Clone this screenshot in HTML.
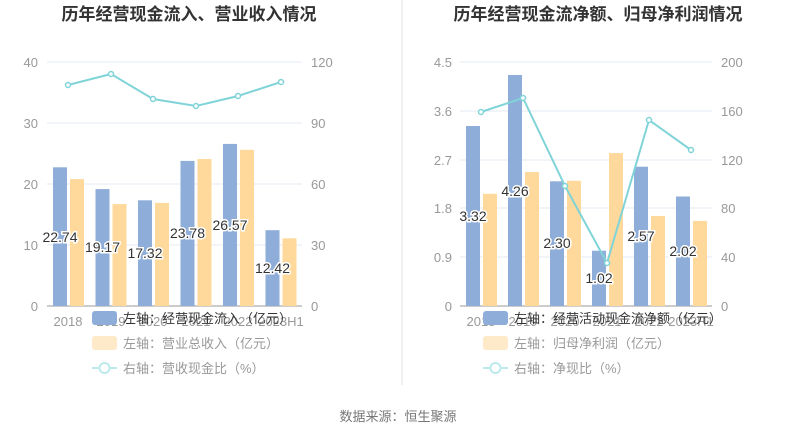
<!DOCTYPE html>
<html><head><meta charset="utf-8"><style>
html,body{margin:0;padding:0;background:#fff;}
svg{display:block;font-family:"Liberation Sans","Noto Sans CJK SC",sans-serif;}
</style></head><body>
<svg width="795" height="439" viewBox="0 0 795 439" xmlns="http://www.w3.org/2000/svg">
<rect width="795" height="439" fill="#fff"/>
<line x1="402" y1="0" x2="402" y2="385" stroke="#f0f0f0" stroke-width="2"/>
<text x="189" y="20" font-size="17" font-weight="bold" fill="#333" text-anchor="middle">历年经营现金流入、营业收入情况</text>
<text x="598" y="20" font-size="17" font-weight="bold" fill="#333" text-anchor="middle">历年经营现金流净额、归母净利润情况</text>

<!-- LEFT -->
<g stroke="#e3e8f3" stroke-width="1">
<line x1="47" y1="62" x2="302" y2="62"/><line x1="47" y1="123" x2="302" y2="123"/>
<line x1="47" y1="184" x2="302" y2="184"/><line x1="47" y1="245" x2="302" y2="245"/>
</g>
<line x1="47" y1="306" x2="302" y2="306" stroke="#999" stroke-width="1"/>
<g font-size="13" fill="#999" text-anchor="end">
<text x="38" y="67">40</text><text x="38" y="128">30</text><text x="38" y="189">20</text><text x="38" y="250">10</text><text x="38" y="311">0</text>
</g>
<g font-size="13" fill="#999" text-anchor="start">
<text x="311" y="67">120</text><text x="311" y="128">90</text><text x="311" y="189">60</text><text x="311" y="250">30</text><text x="311" y="311">0</text>
</g>
<g fill="#8eadd9">
<rect x="53" y="167.3" width="14" height="138.7"/><rect x="95.5" y="189.1" width="14" height="116.9"/>
<rect x="138" y="200.3" width="14" height="105.7"/><rect x="180.5" y="160.9" width="14" height="145.1"/>
<rect x="223" y="143.9" width="14" height="162.1"/><rect x="265.5" y="230.2" width="14" height="75.8"/>
</g>
<g fill="#fed99b">
<rect x="70" y="179.1" width="14" height="126.9"/><rect x="112.5" y="204.1" width="14" height="101.9"/>
<rect x="155" y="202.9" width="14" height="103.1"/><rect x="197.5" y="159" width="14" height="147"/>
<rect x="240" y="149.8" width="14" height="156.2"/><rect x="282.5" y="238.3" width="14" height="67.7"/>
</g>
<g font-size="13" fill="#999" text-anchor="middle">
<text x="68" y="326">2018</text><text x="111" y="326">2019</text><text x="153" y="326">2020</text><text x="196" y="326">2021</text><text x="238" y="326">2022</text><text x="281" y="326">2023H1</text>
</g>
<polyline points="68,85 111,74 153,99 196,106 238,96 281,82" fill="none" stroke="#80d4d8" stroke-width="2"/>
<g fill="#fff" stroke="#80d4d8" stroke-width="1.5">
<circle cx="68" cy="85" r="2.5"/><circle cx="111" cy="74" r="2.5"/><circle cx="153" cy="99" r="2.5"/><circle cx="196" cy="106" r="2.5"/><circle cx="238" cy="96" r="2.5"/><circle cx="281" cy="82" r="2.5"/>
</g>
<g font-size="14" fill="#333" text-anchor="middle" stroke="#fff" stroke-width="3" paint-order="stroke">
<text x="60" y="242">22.74</text><text x="102.5" y="252">19.17</text><text x="145" y="258">17.32</text>
<text x="187.5" y="238">23.78</text><text x="230" y="230">26.57</text><text x="272.5" y="273">12.42</text>
</g>

<!-- RIGHT -->
<g stroke="#e3e8f3" stroke-width="1">
<line x1="460" y1="62" x2="712" y2="62"/><line x1="460" y1="111" x2="712" y2="111"/>
<line x1="460" y1="160" x2="712" y2="160"/><line x1="460" y1="208" x2="712" y2="208"/><line x1="460" y1="257" x2="712" y2="257"/>
</g>
<line x1="460" y1="306" x2="712" y2="306" stroke="#999" stroke-width="1"/>
<g font-size="13" fill="#999" text-anchor="end">
<text x="452" y="67">4.5</text><text x="452" y="116">3.6</text><text x="452" y="165">2.7</text><text x="452" y="213">1.8</text><text x="452" y="262">0.9</text><text x="452" y="311">0</text>
</g>
<g font-size="13" fill="#999" text-anchor="start">
<text x="721" y="67">200</text><text x="721" y="116">160</text><text x="721" y="165">120</text><text x="721" y="213">80</text><text x="721" y="262">40</text><text x="721" y="311">0</text>
</g>
<g fill="#8eadd9">
<rect x="466" y="126" width="14" height="180"/><rect x="508" y="75" width="14" height="231"/>
<rect x="550" y="181.3" width="14" height="124.7"/><rect x="592" y="250.7" width="14" height="55.3"/>
<rect x="634" y="166.7" width="14" height="139.3"/><rect x="676" y="196.5" width="14" height="109.5"/>
</g>
<g fill="#fed99b">
<rect x="483" y="193.8" width="14" height="112.2"/><rect x="525" y="172.1" width="14" height="133.9"/>
<rect x="567" y="180.8" width="14" height="125.2"/><rect x="609" y="153.1" width="14" height="152.9"/>
<rect x="651" y="216" width="14" height="90"/><rect x="693" y="220.9" width="14" height="85.1"/>
</g>
<g font-size="13" fill="#999" text-anchor="middle">
<text x="481" y="326">2018</text><text x="523" y="326">2019</text><text x="565" y="326">2020</text><text x="607" y="326">2021</text><text x="649" y="326">2022</text><text x="691" y="326">2023H1</text>
</g>
<polyline points="481,112 523,98 565,186 607,263 649,120 691,150" fill="none" stroke="#80d4d8" stroke-width="2"/>
<g fill="#fff" stroke="#80d4d8" stroke-width="1.5">
<circle cx="481" cy="112" r="2.5"/><circle cx="523" cy="98" r="2.5"/><circle cx="565" cy="186" r="2.5"/><circle cx="607" cy="263" r="2.5"/><circle cx="649" cy="120" r="2.5"/><circle cx="691" cy="150" r="2.5"/>
</g>
<g font-size="14" fill="#333" text-anchor="middle" stroke="#fff" stroke-width="3" paint-order="stroke">
<text x="473" y="221">3.32</text><text x="515" y="196">4.26</text><text x="557" y="248">2.30</text>
<text x="599" y="283">1.02</text><text x="641" y="241">2.57</text><text x="683" y="256">2.02</text>
</g>

<!-- LEGENDS -->
<g font-size="13" fill="#666">
<rect x="92" y="311" width="25" height="14" rx="3" fill="#8eadd9"/>
<text x="123" y="323" fill="#333">左轴：经营现金流入（亿元）</text>
<rect x="92" y="336" width="25" height="14" rx="3" fill="#fee9c8"/>
<text x="123" y="348" fill="#999">左轴：营业总收入（亿元）</text>
<line x1="92" y1="368" x2="117" y2="368" stroke="#bde9eb" stroke-width="2"/>
<circle cx="104.5" cy="368" r="5" fill="#fff" stroke="#bde9eb" stroke-width="2"/>
<text x="123" y="373" fill="#999">右轴：营收现金比（%）</text>

<rect x="483" y="311" width="25" height="14" rx="3" fill="#8eadd9"/>
<text x="514" y="323" fill="#333">左轴：经营活动现金流净额（亿元）</text>
<rect x="483" y="336" width="25" height="14" rx="3" fill="#fee9c8"/>
<text x="514" y="348" fill="#999">左轴：归母净利润（亿元）</text>
<line x1="483" y1="368" x2="508" y2="368" stroke="#bde9eb" stroke-width="2"/>
<circle cx="495.5" cy="368" r="5" fill="#fff" stroke="#bde9eb" stroke-width="2"/>
<text x="514" y="373" fill="#999">右轴：净现比（%）</text>
</g>
<text x="398" y="421" font-size="13" fill="#777" text-anchor="middle">数据来源：恒生聚源</text>
</svg>
</body></html>
